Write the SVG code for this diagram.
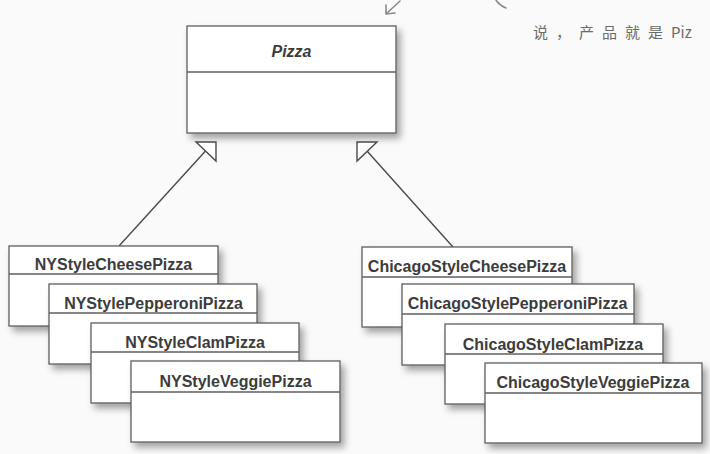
<svg xmlns="http://www.w3.org/2000/svg" width="710" height="454" viewBox="0 0 710 454">
  <defs>
    <filter id="shadow" x="-10%" y="-10%" width="130%" height="140%">
      <feDropShadow dx="4" dy="5" stdDeviation="3.5" flood-color="#000" flood-opacity="0.35"/>
    </filter>
    <style>
      .box { fill: #ffffff; stroke: #5e5e5e; stroke-width: 1.3; }
      .div { stroke: #5e5e5e; stroke-width: 1.3; fill: none; }
      .lbl { font-family: "Liberation Sans", Arial, sans-serif; font-weight: bold; font-size: 16px; fill: #3c3c3c; text-anchor: middle; }
      .it { font-style: italic; }
      .conn { stroke: #4a4a4a; stroke-width: 1.4; fill: none; }
      .head { fill: #ffffff; stroke: #4a4a4a; stroke-width: 1.4; stroke-linejoin: miter; }
      .note { font-family: "Noto Sans CJK SC", "Noto Sans", sans-serif; font-size: 15px; fill: #6a6a6a; }
      .pen { stroke: #8a8a8a; stroke-width: 1.6; fill: none; stroke-linecap: round; }
    </style>
  </defs>

  <rect x="0" y="0" width="710" height="454" fill="#fafafa"/>

  <!-- handwritten annotation -->
  <g id="annotation">
    <path class="pen" d="M400 1 L386 14 M386 14 L386 5 M386 14 L395 13"/>
    <path class="pen" d="M496 0 Q499 5 506 8"/>
    <text class="note" x="533" y="38"><tspan letter-spacing="8">说，产品就是</tspan><tspan letter-spacing="0">Piz</tspan></text>
  </g>

  <!-- Pizza -->
  <g id="pizza">
    <rect class="box" x="187" y="26" width="209" height="107" filter="url(#shadow)"/>
    <line class="div" x1="187" y1="72" x2="396" y2="72"/>
    <text class="lbl it" x="291.5" y="57">Pizza</text>
  </g>

  <!-- connectors -->
  <g id="connectors">
    <line class="conn" x1="205.5" y1="151" x2="119" y2="246"/>
    <polygon class="head" points="216,142 196,142 216,161"/>
    <line class="conn" x1="367" y1="151" x2="453" y2="247"/>
    <polygon class="head" points="357,142 377,142 357,161"/>
  </g>

  <!-- NY style -->
  <g id="ny-cheese">
    <rect class="box" x="9" y="246" width="209" height="80" filter="url(#shadow)"/>
    <line class="div" x1="9" y1="274" x2="218" y2="274"/>
    <text class="lbl" x="113.5" y="270">NYStyleCheesePizza</text>
  </g>
  <g id="ny-pepperoni">
    <rect class="box" x="49" y="284" width="208" height="80" filter="url(#shadow)"/>
    <line class="div" x1="49" y1="313" x2="257" y2="313"/>
    <text class="lbl" x="153.5" y="309">NYStylePepperoniPizza</text>
  </g>
  <g id="ny-clam">
    <rect class="box" x="91" y="323" width="208" height="80" filter="url(#shadow)"/>
    <line class="div" x1="91" y1="352" x2="299" y2="352"/>
    <text class="lbl" x="195" y="348">NYStyleClamPizza</text>
  </g>
  <g id="ny-veggie">
    <rect class="box" x="131" y="361" width="209" height="81" filter="url(#shadow)"/>
    <line class="div" x1="131" y1="392" x2="340" y2="392"/>
    <text class="lbl" x="235.5" y="387">NYStyleVeggiePizza</text>
  </g>

  <!-- Chicago style -->
  <g id="chicago-cheese">
    <rect class="box" x="362" y="247" width="210" height="80" filter="url(#shadow)"/>
    <line class="div" x1="362" y1="277" x2="572" y2="277"/>
    <text class="lbl" x="467" y="272">ChicagoStyleCheesePizza</text>
  </g>
  <g id="chicago-pepperoni">
    <rect class="box" x="402" y="284" width="232" height="81" filter="url(#shadow)"/>
    <line class="div" x1="402" y1="314" x2="634" y2="314"/>
    <text class="lbl" x="517.5" y="309">ChicagoStylePepperoniPizza</text>
  </g>
  <g id="chicago-clam">
    <rect class="box" x="445" y="324" width="218" height="80" filter="url(#shadow)"/>
    <line class="div" x1="445" y1="354" x2="663" y2="354"/>
    <text class="lbl" x="553" y="350">ChicagoStyleClamPizza</text>
  </g>
  <g id="chicago-veggie">
    <rect class="box" x="485" y="363" width="217" height="80" filter="url(#shadow)"/>
    <line class="div" x1="485" y1="393" x2="702" y2="393"/>
    <text class="lbl" x="593" y="388">ChicagoStyleVeggiePizza</text>
  </g>
</svg>
